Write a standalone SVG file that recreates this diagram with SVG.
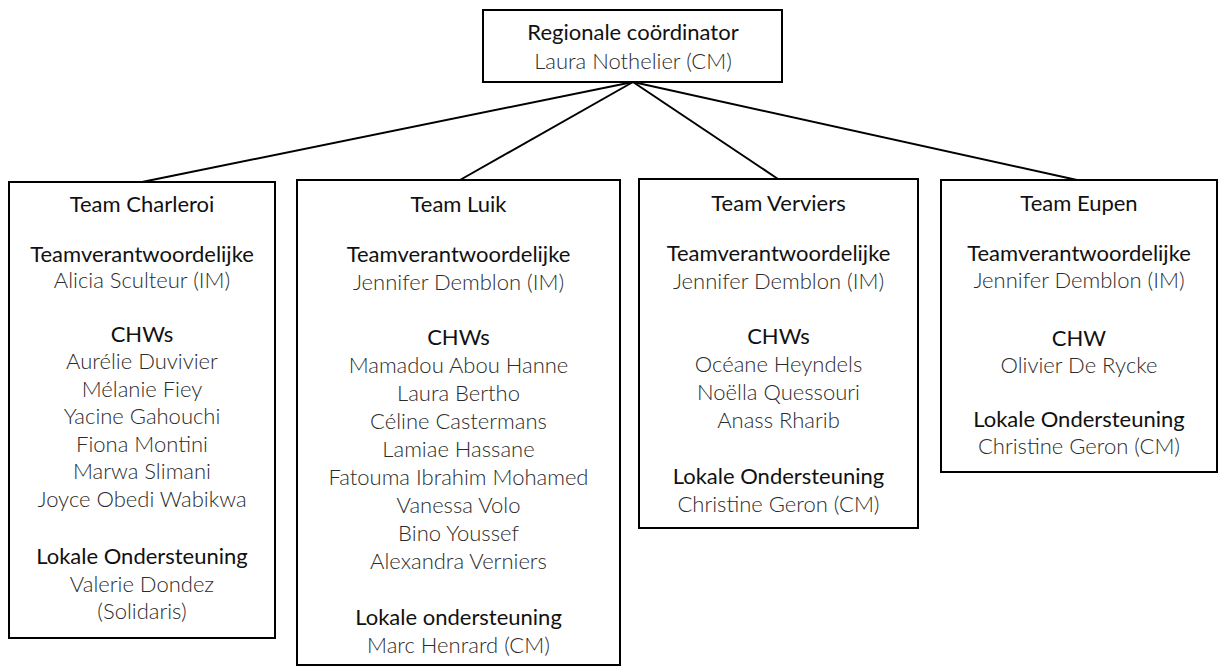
<svg xmlns="http://www.w3.org/2000/svg" width="1219" height="668" viewBox="0 0 1219 668">
<style>
.box{fill:#fff;stroke:#000;stroke-width:2}
.h{font-family:Lato,"Liberation Sans",sans-serif;font-size:22px;fill:#111;text-anchor:middle}
.n{font-family:Lato,"Liberation Sans",sans-serif;font-size:22px;font-weight:300;fill:#2b2b2b;text-anchor:middle}
.conn{stroke:#000;stroke-width:2;fill:none}
</style>
<rect width="1219" height="668" fill="#fff"/>
<g id="connectors">
<line class="conn" x1="633" y1="82" x2="142" y2="182"/>
<line class="conn" x1="633" y1="82" x2="460" y2="180"/>
<line class="conn" x1="633" y1="82" x2="778" y2="179"/>
<line class="conn" x1="633" y1="82" x2="1077" y2="180"/>
</g>
<g id="node-coordinator">
<rect class="box" x="483" y="10" width="299" height="72"/>
<text class="h" x="633" y="40">Regionale coördinator</text>
<text class="n" x="633" y="69">Laura Nothelier (CM)</text>
</g>
<g id="node-charleroi">
<rect class="box" x="9" y="182" width="266" height="456"/>
<text class="h" x="142" y="212">Team Charleroi</text>
<text class="h" x="142" y="262">Teamverantwoordelijke</text>
<text class="n" x="142" y="288">Alicia Sculteur (IM)</text>
<text class="h" x="142" y="342">CHWs</text>
<text class="n" x="142" y="369">Aurélie Duvivier</text>
<text class="n" x="142" y="396.5">Mélanie Fiey</text>
<text class="n" x="142" y="424">Yacine Gahouchi</text>
<text class="n" x="142" y="451.5">Fiona Montini</text>
<text class="n" x="142" y="479">Marwa Slimani</text>
<text class="n" x="142" y="506.5">Joyce Obedi Wabikwa</text>
<text class="h" x="142" y="564">Lokale Ondersteuning</text>
<text class="n" x="142" y="592">Valerie Dondez</text>
<text class="n" x="142" y="619">(Solidaris)</text>
</g>
<g id="node-luik">
<rect class="box" x="297" y="180" width="323" height="485"/>
<text class="h" x="458.5" y="212">Team Luik</text>
<text class="h" x="458.5" y="262">Teamverantwoordelijke</text>
<text class="n" x="458.5" y="290">Jennifer Demblon (IM)</text>
<text class="h" x="458.5" y="345">CHWs</text>
<text class="n" x="458.5" y="373">Mamadou Abou Hanne</text>
<text class="n" x="458.5" y="401">Laura Bertho</text>
<text class="n" x="458.5" y="429">Céline Castermans</text>
<text class="n" x="458.5" y="457">Lamiae Hassane</text>
<text class="n" x="458.5" y="485">Fatouma Ibrahim Mohamed</text>
<text class="n" x="458.5" y="513">Vanessa Volo</text>
<text class="n" x="458.5" y="541">Bino Youssef</text>
<text class="n" x="458.5" y="569">Alexandra Verniers</text>
<text class="h" x="458.5" y="625">Lokale ondersteuning</text>
<text class="n" x="458.5" y="653">Marc Henrard (CM)</text>
</g>
<g id="node-verviers">
<rect class="box" x="639" y="179" width="279" height="349"/>
<text class="h" x="778.5" y="211">Team Verviers</text>
<text class="h" x="778.5" y="261">Teamverantwoordelijke</text>
<text class="n" x="778.5" y="289">Jennifer Demblon (IM)</text>
<text class="h" x="778.5" y="344">CHWs</text>
<text class="n" x="778.5" y="372">Océane Heyndels</text>
<text class="n" x="778.5" y="400">Noëlla Quessouri</text>
<text class="n" x="778.5" y="428">Anass Rharib</text>
<text class="h" x="778.5" y="484">Lokale Ondersteuning</text>
<text class="n" x="778.5" y="512">Christine Geron (CM)</text>
</g>
<g id="node-eupen">
<rect class="box" x="941" y="180" width="276" height="292"/>
<text class="h" x="1079" y="211">Team Eupen</text>
<text class="h" x="1079" y="261">Teamverantwoordelijke</text>
<text class="n" x="1079" y="288">Jennifer Demblon (IM)</text>
<text class="h" x="1079" y="346">CHW</text>
<text class="n" x="1079" y="373">Olivier De Rycke</text>
<text class="h" x="1079" y="427">Lokale Ondersteuning</text>
<text class="n" x="1079" y="454">Christine Geron (CM)</text>
</g>
</svg>
